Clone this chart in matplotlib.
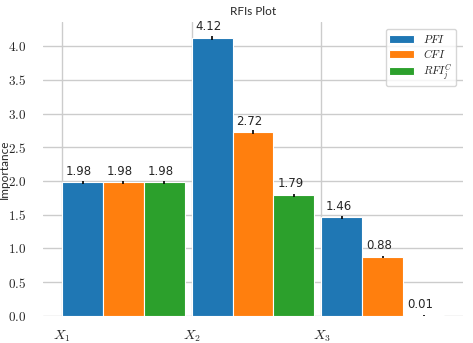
import matplotlib
matplotlib.use("Agg")
import matplotlib.pyplot as plt
import seaborn as sns
import numpy as np
from matplotlib.ticker import FuncFormatter

features = [r"$X_1$", r"$X_2$", r"$X_3$"]
series_names = [r"$PFI$", r"$CFI$", r"$RFI_j^C$"]
pfi = [1.98, 4.12, 1.46]
cfi = [1.98, 2.72, 0.88]
rfi = [1.98, 1.79, 0.01]
pfi_err = [0.02, 0.03, 0.02]
cfi_err = [0.02, 0.03, 0.015]
rfi_err = [0.02, 0.02, 0.005]
colors = ["#1f77b4", "#ff7f0e", "#2ca02c"]

sns.set_theme(style="whitegrid")
plt.rcParams["font.family"] = ["DejaVu Sans"]
plt.rcParams["mathtext.fontset"] = "cm"

fig = plt.figure(figsize=(4.73, 3.43), dpi=100)
ax = fig.add_axes([0.091, 0.079, 0.888, 0.857])

x = np.arange(len(features))
w = 0.315
vals = [pfi, cfi, rfi]
errs = [pfi_err, cfi_err, rfi_err]
for i, (v, e) in enumerate(zip(vals, errs)):
    pos = x + i * w
    ax.bar(pos, v, width=w, align="edge", color=colors[i], edgecolor="white",
           linewidth=0.8, label=series_names[i], zorder=2)
    ax.errorbar(pos + w / 2, v, yerr=e, fmt="none", ecolor="black",
                elinewidth=1.2, capsize=0, zorder=3)
    for p, h in zip(pos, v):
        ax.text(p + 0.03, h + 0.07, f"{h:.2f}", ha="left", va="bottom",
                fontsize=8.5, color="#262626", zorder=4)

ax.set_xticks(x)
ax.set_xticklabels(features, fontsize=10)
ax.yaxis.set_major_formatter(FuncFormatter(lambda v, p: f"${v:.1f}$"))
ax.tick_params(axis="y", labelsize=9.5, pad=6)
ax.set_ylabel("Importance", fontsize=8.5, family=["Lato", "DejaVu Sans"])
ax.yaxis.set_label_coords(-0.079, 0.5)
ax.set_title("RFIs Plot", fontsize=8.5, family=["Lato", "DejaVu Sans"], pad=5)
for s in ax.spines.values():
    s.set_visible(False)
ax.legend(loc="upper right", fontsize=8, frameon=True, handlelength=2.2,
          labelspacing=0.2, borderaxespad=0.6, borderpad=0.35)

fig.savefig("out.png", dpi=100)
